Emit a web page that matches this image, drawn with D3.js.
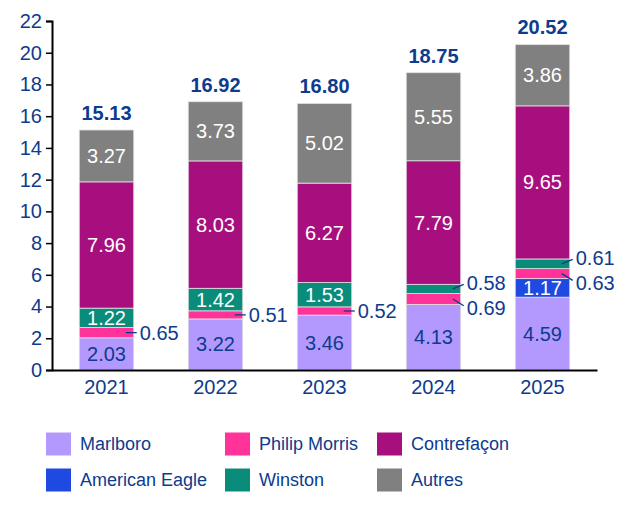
<!DOCTYPE html>
<html>
<head>
<meta charset="utf-8">
<script src="https://cdn.jsdelivr.net/npm/d3@7"></script>
<style>
  body { margin: 0; background: #fff; }
  text { font-family: "Liberation Sans", Arial, sans-serif; }
</style>
</head>
<body>
<div id="chart"></div>
<script>
const years = ["2021", "2022", "2023", "2024", "2025"];
const marlboro = [2.03, 3.22, 3.46, 4.13, 4.59];
const americanEagle = [0, 0, 0, 0, 1.17];
const philipMorris = [0.65, 0.51, 0.52, 0.69, 0.63];
const winston = [1.22, 1.42, 1.53, 0.58, 0.61];
const contrefacon = [7.96, 8.03, 6.27, 7.79, 9.65];
const autres = [3.27, 3.73, 5.02, 5.55, 3.86];
const totals = [15.13, 16.92, 16.80, 18.75, 20.52];
const yTicks = [0, 2, 4, 6, 8, 10, 12, 14, 16, 18, 20, 22];
const legendOrder = ["Marlboro", "Philip Morris", "Contrefaçon", "American Eagle", "Winston", "Autres"];

let width = 619,
    height = 523,
    margin = ({ top: 21, right: 22, bottom: 153, left: 52 });

const textColor = "#0d3b8e";
const series = [
  { key: "Marlboro", values: marlboro, color: "#b399fd", label: textColor },
  { key: "American Eagle", values: americanEagle, color: "#1f4ae2", label: "#fff" },
  { key: "Philip Morris", values: philipMorris, color: "#ff3399", label: "#fff" },
  { key: "Winston", values: winston, color: "#0a8c7a", label: "#fff" },
  { key: "Contrefaçon", values: contrefacon, color: "#a80f7e", label: "#fff" },
  { key: "Autres", values: autres, color: "#808080", label: "#fff" }
];
const byKey = new Map(series.map(s => [s.key, s]));

const table = years.map((y, i) => {
  const row = { year: y, total: totals[i] };
  series.forEach(s => row[s.key] = s.values[i]);
  return row;
});

const svg = d3.select("#chart")
  .append("svg")
  .attr("width", width)
  .attr("height", height);

const x = d3.scaleBand()
  .domain(years)
  .range([margin.left, width - margin.right])
  .paddingInner(0.5)
  .paddingOuter(0.25);

const y = d3.scaleLinear()
  .domain([0, 22])
  .range([height - margin.bottom, margin.top]);

const stacked = d3.stack().keys(series.map(s => s.key))(table);

// bars
const layers = svg.append("g")
  .selectAll("g")
  .data(stacked)
  .join("g")
  .attr("fill", d => byKey.get(d.key).color);

layers.selectAll("rect")
  .data(d => d.filter(p => p[1] - p[0] > 0))
  .join("rect")
  .attr("x", d => x(d.data.year))
  .attr("width", x.bandwidth())
  .attr("y", d => y(d[1]))
  .attr("height", d => y(d[0]) - y(d[1]))
  .attr("stroke", "#e2e2e2")
  .attr("stroke-width", 0.8);

// segment labels
const labels = svg.append("g").attr("font-size", 20);
stacked.forEach(layer => {
  const s = byKey.get(layer.key);
  layer.forEach((p, i) => {
    const v = p[1] - p[0];
    if (v <= 0) return;
    const mid = y((p[0] + p[1]) / 2);
    const xl = x(p.data.year);
    if (v >= 1) {
      labels.append("text")
        .attr("x", xl + x.bandwidth() / 2)
        .attr("y", mid)
        .attr("dy", "0.35em")
        .attr("text-anchor", "middle")
        .attr("fill", s.label)
        .text(v.toFixed(2));
    } else {
      // small values placed outside with a leader line
      const crowded = table[i]["Philip Morris"] < 1 && table[i]["Winston"] < 1;
      let dy = 0;
      if (crowded) dy = layer.key === "Philip Morris" ? 9 : -6;
      const right = xl + x.bandwidth();
      labels.append("line")
        .attr("x1", right - 8).attr("y1", mid)
        .attr("x2", right + 3).attr("y2", mid + dy * 0.75)
        .attr("stroke", textColor)
        .attr("stroke-width", 1.3);
      labels.append("text")
        .attr("x", right + 6)
        .attr("y", mid + dy)
        .attr("dy", "0.35em")
        .attr("fill", textColor)
        .text(v.toFixed(2));
    }
  });
});

// totals
svg.append("g")
  .selectAll("text")
  .data(table)
  .join("text")
  .attr("x", d => x(d.year) + x.bandwidth() / 2)
  .attr("y", d => y(d.total) - 10)
  .attr("text-anchor", "middle")
  .attr("font-size", 20)
  .attr("font-weight", "bold")
  .attr("fill", textColor)
  .text(d => d.total.toFixed(2));

// axes
const yAxis = svg.append("g")
  .attr("transform", `translate(${margin.left},0)`)
  .call(d3.axisLeft(y).tickValues(yTicks).tickSize(6).tickPadding(4));
yAxis.select(".domain").attr("stroke", "#000").attr("stroke-width", 2);
yAxis.selectAll(".tick line").attr("stroke", "#000").attr("stroke-width", 1.5);
yAxis.selectAll(".tick text")
  .attr("fill", textColor)
  .attr("font-size", 20)
  .attr("font-family", "Liberation Sans, Arial, sans-serif");

const xAxis = svg.append("g")
  .attr("transform", `translate(0,${height - margin.bottom})`)
  .call(d3.axisBottom(x).tickSize(0).tickPadding(10));
xAxis.select(".domain").attr("stroke", "#000").attr("stroke-width", 2);
xAxis.selectAll(".tick text")
  .attr("fill", textColor)
  .attr("font-size", 20)
  .attr("font-family", "Liberation Sans, Arial, sans-serif");

// legend
const colX = [46, 225, 377];
const rowY = [444, 480];
const legend = svg.append("g")
  .selectAll("g")
  .data(legendOrder)
  .join("g")
  .attr("transform", (d, i) => `translate(${colX[i % 3]},${rowY[Math.floor(i / 3)]})`);

legend.append("rect")
  .attr("x", 0)
  .attr("y", -11.5)
  .attr("width", 25)
  .attr("height", 23)
  .attr("fill", d => byKey.get(d).color);

legend.append("text")
  .attr("x", 34)
  .attr("dy", "0.35em")
  .attr("font-size", 18)
  .attr("fill", textColor)
  .text(d => d);
</script>
</body>
</html>
